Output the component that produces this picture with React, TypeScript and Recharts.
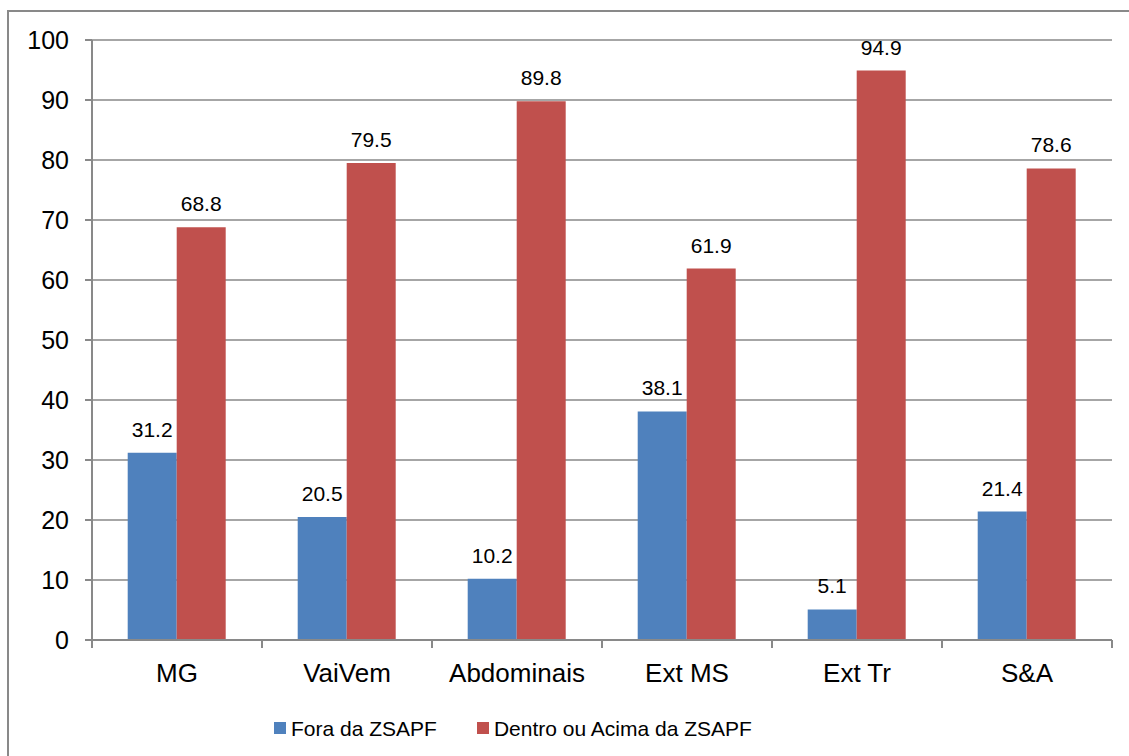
import { Bar, BarChart, CartesianGrid, LabelList, Legend, XAxis, YAxis } from "recharts";

const categories = ["MG", "VaiVem", "Abdominais", "Ext MS", "Ext Tr", "S&A"];
const foraValues = [31.2, 20.5, 10.2, 38.1, 5.1, 21.4];
const dentroValues = [68.8, 79.5, 89.8, 61.9, 94.9, 78.6];
const yTicks = [0, 10, 20, 30, 40, 50, 60, 70, 80, 90, 100];

const seriesKeys = ["fora", "dentro"];
const seriesNames: Record<string, string> = {
  fora: "Fora da ZSAPF",
  dentro: "Dentro ou Acima da ZSAPF",
};

const BLUE = "#4F81BD";
const RED = "#C0504D";
const AXIS = "#898989";
const FONT = '"Liberation Sans", Arial, sans-serif';

const data = categories.map((name, i) => ({
  name,
  fora: foraValues[i],
  dentro: dentroValues[i],
}));

// category label plus tick marks on the band edges (between categories)
function CategoryTick(props: any) {
  const { x, y, payload, index, width, visibleTicksCount } = props;
  const half = payload?.offset ?? width / visibleTicksCount / 2;
  const isLast = index === visibleTicksCount - 1;
  return (
    <g>
      <line x1={x - half} x2={x - half} y1={y} y2={y + 8} stroke={AXIS} strokeWidth={2} />
      {isLast && <line x1={x + half} x2={x + half} y1={y} y2={y + 8} stroke={AXIS} strokeWidth={2} />}
      <text x={x} y={y + 42} textAnchor="middle" fontSize={26} fill="#000" fontFamily={FONT}>
        {payload.value}
      </text>
    </g>
  );
}

function LegendContent(props: any) {
  const items = [...(props.payload || [])].sort(
    (a: any, b: any) => seriesKeys.indexOf(a.dataKey) - seriesKeys.indexOf(b.dataKey)
  );
  return (
    <div style={{ display: "flex", alignItems: "center", fontFamily: FONT, fontSize: 21, lineHeight: "24px", color: "#000" }}>
      {items.map((item: any, i: number) => (
        <div key={i} style={{ display: "flex", alignItems: "center", marginRight: 40 }}>
          <span style={{ width: 12, height: 12, background: item.color, marginRight: 5, marginTop: -2 }} />
          <span>{seriesNames[item.dataKey]}</span>
        </div>
      ))}
    </div>
  );
}

export default function App() {
  return (
    <div style={{ position: "absolute", left: 0, top: 0, width: 1129, height: 756, overflow: "hidden", background: "#fff" }}>
      <div style={{ position: "absolute", left: 7, top: 10, width: 1200, height: 800, border: `2px solid ${AXIS}` }} />
      <div style={{ position: "absolute", left: 8, top: 11 }}>
        <BarChart
          width={1121}
          height={745}
          data={data}
          margin={{ top: 29, right: 17, left: 0, bottom: 66 }}
          barCategoryGap="21%"
          barGap={0}
        >
          <CartesianGrid vertical={false} stroke={AXIS} strokeWidth={1.5} />
          <XAxis
            dataKey="name"
            height={50}
            axisLine={{ stroke: AXIS, strokeWidth: 2 }}
            tickLine={false}
            tickSize={0}
            tickMargin={0}
            interval={0}
            tick={<CategoryTick />}
          />
          <YAxis
            width={84}
            domain={[0, 100]}
            ticks={yTicks}
            interval={0}
            axisLine={{ stroke: AXIS, strokeWidth: 2 }}
            tickLine={{ stroke: AXIS, strokeWidth: 2 }}
            tickSize={7}
            tickMargin={16}
            tick={{ fontSize: 25, fill: "#000", fontFamily: FONT }}
          />
          <Legend
            layout="horizontal"
            verticalAlign="middle"
            align="center"
            content={<LegendContent />}
            wrapperStyle={{ left: 266, top: 706, width: 700, height: 24 }}
          />
          <Bar dataKey="fora" name={seriesNames.fora} fill={BLUE} isAnimationActive={false}>
            <LabelList dataKey="fora" position="top" offset={16} fontSize={21} fill="#000" fontFamily={FONT} />
          </Bar>
          <Bar dataKey="dentro" name={seriesNames.dentro} fill={RED} isAnimationActive={false}>
            <LabelList dataKey="dentro" position="top" offset={16} fontSize={21} fill="#000" fontFamily={FONT} />
          </Bar>
        </BarChart>
      </div>
    </div>
  );
}
